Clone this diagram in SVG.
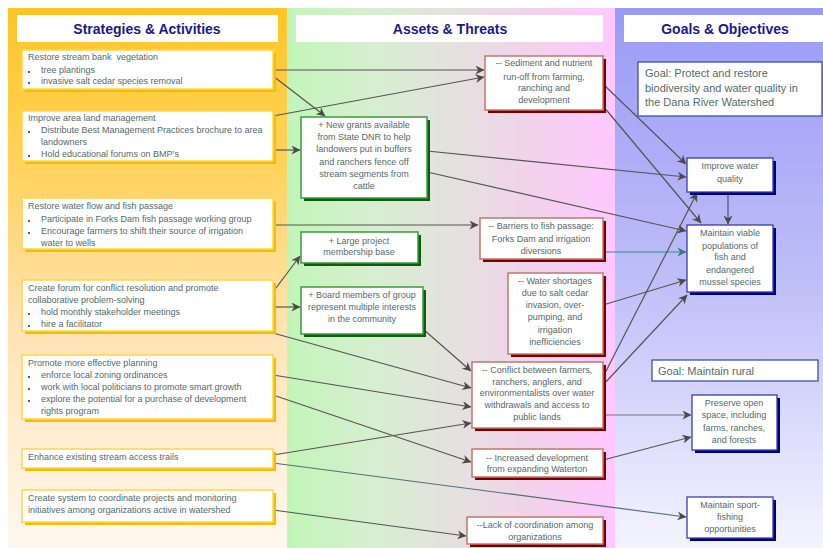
<svg xmlns="http://www.w3.org/2000/svg" width="823" height="548" viewBox="0 0 823 548">
  <defs>
    <linearGradient id="gLeft" x1="0" y1="0" x2="0" y2="1">
      <stop offset="0" stop-color="#FFC526"/>
      <stop offset="0.3" stop-color="#FFD35E"/>
      <stop offset="0.6" stop-color="#FFE4B4"/>
      <stop offset="1" stop-color="#FFF8F0"/>
    </linearGradient>
    <linearGradient id="gMid" x1="0" y1="0" x2="1" y2="0">
      <stop offset="0" stop-color="#C2F5B8"/>
      <stop offset="0.25" stop-color="#D6EFCF"/>
      <stop offset="0.5" stop-color="#E4E2DE"/>
      <stop offset="0.75" stop-color="#F2D2EC"/>
      <stop offset="1" stop-color="#FFC8FF"/>
    </linearGradient>
    <linearGradient id="gRight" x1="0" y1="0" x2="0" y2="1">
      <stop offset="0" stop-color="#9A9AF6"/>
      <stop offset="0.5" stop-color="#BEBEF8"/>
      <stop offset="1" stop-color="#F4F4FF"/>
    </linearGradient>
    <marker id="ah" viewBox="0 0 10 10" refX="9.5" refY="5" markerWidth="10" markerHeight="9" orient="auto" markerUnits="userSpaceOnUse">
      <path d="M0,0 L10,5 L0,10 L3,5 z" fill="#4a4a4a"/>
    </marker>
    <marker id="ahT" viewBox="0 0 10 10" refX="9.5" refY="5" markerWidth="10" markerHeight="9" orient="auto" markerUnits="userSpaceOnUse">
      <path d="M0,0 L10,5 L0,10 L3,5 z" fill="#3a7a7a"/>
    </marker>
  </defs>
  <style>
    .hdr { font-family: "Liberation Sans", Arial, sans-serif; font-weight: bold; font-size: 14px; fill: #1a1a8c; text-anchor: middle; }
    .t { font-family: "Liberation Sans", Arial, sans-serif; font-size: 9px; fill: #546a6a; }
    .c { text-anchor: middle; }
    .goal { font-family: "Liberation Sans", Arial, sans-serif; font-size: 11px; fill: #546a6a; }
    .hbox { fill: #ffffff; }
    .sY { fill: #F2BE00; }
    .bY { fill: #ffffff; stroke: #FFD54A; stroke-width: 1.5; }
    .sG { fill: #0B5E0B; }
    .bG { fill: #ffffff; stroke: #3C9A3C; stroke-width: 1.5; }
    .sR { fill: #7A0000; }
    .bR { fill: #ffffff; stroke: #C07A6A; stroke-width: 1.5; }
    .sB { fill: #00007A; }
    .bB { fill: #ffffff; stroke: #3B3BB0; stroke-width: 1.3; }
    .bGoal { fill: #ffffff; stroke: #4050A0; stroke-width: 1.3; }
    .bul { fill: #546a6a; }
    .ln { fill: none; stroke: #555555; stroke-width: 1.2; marker-end: url(#ah); }
    .lnT { fill: none; stroke: #3a8a8a; stroke-width: 1.2; marker-end: url(#ahT); }
    .lnS { fill: none; stroke: #557070; stroke-width: 1.2; marker-end: url(#ah); }
    .lnM { fill: none; stroke: #8a6a7a; stroke-width: 1.2; marker-end: url(#ah); }
  </style>

  <!-- column backgrounds -->
  <rect x="0" y="0" width="823" height="548" fill="#ffffff"/>
  <rect x="8" y="8" width="279" height="540" fill="url(#gLeft)"/>
  <rect x="287" y="8" width="328" height="540" fill="url(#gMid)"/>
  <rect x="615" y="8" width="208" height="540" fill="url(#gRight)"/>

  <!-- column headers -->
  <g id="hdr-strategies">
    <rect class="hbox" x="17" y="15" width="261" height="27"/>
    <text class="hdr" x="147" y="34">Strategies &amp; Activities</text>
  </g>
  <g id="hdr-assets">
    <rect class="hbox" x="296" y="15" width="307" height="27"/>
    <text class="hdr" x="450" y="34">Assets &amp; Threats</text>
  </g>
  <g id="hdr-goals">
    <rect class="hbox" x="624" y="15" width="199" height="27"/>
    <text class="hdr" x="725" y="34">Goals &amp; Objectives</text>
  </g>

  <!-- connectors -->
  <g id="connectors">
    <path class="ln" d="M273,70 L484,70"/>
    <path class="ln" d="M273,76 L325,116"/>
    <path class="ln" d="M273,116 L484,77"/>
    <path class="ln" d="M273,150 L300,150"/>
    <path class="ln" d="M603,84 L686,164"/>
    <path class="ln" d="M603,106 L701,223"/>
    <path class="ln" d="M427,151 L686,177"/>
    <path class="ln" d="M427,172 L686,231"/>
    <path class="ln" d="M728,192 L728,224"/>
    <path class="ln" d="M273,225 L478,225"/>
    <path class="lnT" d="M603,252 L686,252"/>
    <path class="ln" d="M273,292 L300,256"/>
    <path class="ln" d="M273,307 L300,307"/>
    <path class="ln" d="M273,333 L471,388"/>
    <path class="ln" d="M423,329 L471,371"/>
    <path class="ln" d="M273,375 L471,407"/>
    <path class="ln" d="M273,395 L471,462"/>
    <path class="ln" d="M273,455 L471,423"/>
    <path class="lnS" d="M273,463 L686,517"/>
    <path class="ln" d="M273,510 L466,536"/>
    <path class="ln" d="M603,305 L686,280"/>
    <path class="ln" d="M603,377 L697,193"/>
    <path class="ln" d="M603,385 L687,295"/>
    <path class="lnM" d="M603,415 L691,415"/>
    <path class="ln" d="M603,460 L691,437"/>
  </g>

  <!-- strategies & activities -->
  <g id="s-stream-bank">
    <rect class="sY" x="25" y="53" width="251" height="39"/>
    <rect class="bY" x="22" y="50" width="251" height="39"/>
    <text class="t" x="28" y="60" xml:space="preserve">Restore stream bank  vegetation</text>
    <rect class="bul" x="28" y="71" width="2" height="2"/>
    <text class="t" x="41" y="73">tree plantings</text>
    <rect class="bul" x="28" y="82" width="2" height="2"/>
    <text class="t" x="41" y="84">invasive salt cedar species removal</text>
  </g>
  <g id="s-land-management">
    <rect class="sY" x="25" y="114" width="251" height="50"/>
    <rect class="bY" x="22" y="111" width="251" height="50"/>
    <text class="t" x="28" y="121">Improve area land management</text>
    <rect class="bul" x="28" y="131" width="2" height="2"/>
    <text class="t" x="41" y="133">Distribute Best Management Practices brochure to area</text>
    <text class="t" x="41" y="145">landowners</text>
    <rect class="bul" x="28" y="155" width="2" height="2"/>
    <text class="t" x="41" y="157">Hold educational forums on BMP’s</text>
  </g>
  <g id="s-water-flow">
    <rect class="sY" x="25" y="201" width="251" height="51"/>
    <rect class="bY" x="22" y="198" width="251" height="51"/>
    <text class="t" x="28" y="209">Restore water flow and fish passage</text>
    <rect class="bul" x="28" y="220" width="2" height="2"/>
    <text class="t" x="41" y="222">Participate in Forks Dam fish passage working group</text>
    <rect class="bul" x="28" y="232" width="2" height="2"/>
    <text class="t" x="41" y="234">Encourage farmers to shift their source of irrigation</text>
    <text class="t" x="41" y="246">water to wells</text>
  </g>
  <g id="s-forum">
    <rect class="sY" x="25" y="283" width="251" height="51"/>
    <rect class="bY" x="22" y="280" width="251" height="51"/>
    <text class="t" x="28" y="291">Create forum for conflict resolution and promote</text>
    <text class="t" x="28" y="303">collaborative problem-solving</text>
    <rect class="bul" x="28" y="313" width="2" height="2"/>
    <text class="t" x="41" y="315">hold monthly stakeholder meetings</text>
    <rect class="bul" x="28" y="325" width="2" height="2"/>
    <text class="t" x="41" y="327">hire a facilitator</text>
  </g>
  <g id="s-planning">
    <rect class="sY" x="25" y="358" width="251" height="64"/>
    <rect class="bY" x="22" y="355" width="251" height="64"/>
    <text class="t" x="28" y="366">Promote more effective planning</text>
    <rect class="bul" x="28" y="376" width="2" height="2"/>
    <text class="t" x="41" y="378">enforce local zoning ordinances</text>
    <rect class="bul" x="28" y="388" width="2" height="2"/>
    <text class="t" x="41" y="390">work with local politicians to promote smart growth</text>
    <rect class="bul" x="28" y="400" width="2" height="2"/>
    <text class="t" x="41" y="402">explore the potential for a purchase of development</text>
    <text class="t" x="41" y="414">rights program</text>
  </g>
  <g id="s-trails">
    <rect class="sY" x="25" y="452" width="251" height="19"/>
    <rect class="bY" x="22" y="449" width="251" height="19"/>
    <text class="t" x="28" y="460">Enhance existing stream access trails</text>
  </g>
  <g id="s-coordination">
    <rect class="sY" x="25" y="493" width="251" height="32"/>
    <rect class="bY" x="22" y="490" width="251" height="32"/>
    <text class="t" x="28" y="501">Create system to coordinate projects and monitoring</text>
    <text class="t" x="28" y="513">initiatives among organizations active in watershed</text>
  </g>

  <!-- assets -->
  <g id="a-grants">
    <rect class="sG" x="304" y="120" width="126" height="81"/>
    <rect class="bG" x="301" y="117" width="126" height="81"/>
    <text class="t c" x="364" y="128">+ New grants available</text>
    <text class="t c" x="364" y="140">from State DNR to help</text>
    <text class="t c" x="364" y="152">landowers put in buffers</text>
    <text class="t c" x="364" y="165">and ranchers fence off</text>
    <text class="t c" x="364" y="177">stream segments from</text>
    <text class="t c" x="364" y="189">cattle</text>
  </g>
  <g id="a-membership">
    <rect class="sG" x="304" y="235" width="117" height="31"/>
    <rect class="bG" x="301" y="232" width="117" height="31"/>
    <text class="t c" x="359" y="244">+ Large project</text>
    <text class="t c" x="359" y="255">membership base</text>
  </g>
  <g id="a-board">
    <rect class="sG" x="304" y="290" width="122" height="47"/>
    <rect class="bG" x="301" y="287" width="122" height="47"/>
    <text class="t c" x="362" y="298">+ Board members of group</text>
    <text class="t c" x="362" y="310">represent multiple interests</text>
    <text class="t c" x="362" y="322">in the community</text>
  </g>

  <!-- threats -->
  <g id="t-sediment">
    <rect class="sR" x="488" y="59" width="118" height="54"/>
    <rect class="bR" x="485" y="56" width="118" height="54"/>
    <text class="t c" x="544" y="66">-- Sediment and nutrient</text>
    <text class="t c" x="544" y="80">run-off from farming,</text>
    <text class="t c" x="544" y="91">ranching and</text>
    <text class="t c" x="544" y="103">development</text>
  </g>
  <g id="t-barriers">
    <rect class="sR" x="483" y="221" width="123" height="41"/>
    <rect class="bR" x="480" y="218" width="123" height="41"/>
    <text class="t c" x="541" y="229">-- Barriers to fish passage:</text>
    <text class="t c" x="541" y="242">Forks Dam and irrigation</text>
    <text class="t c" x="541" y="254">diversions</text>
  </g>
  <g id="t-water-shortages">
    <rect class="sR" x="511" y="276" width="95" height="81"/>
    <rect class="bR" x="508" y="273" width="95" height="81"/>
    <text class="t c" x="555" y="284">-- Water shortages</text>
    <text class="t c" x="555" y="296">due to salt cedar</text>
    <text class="t c" x="555" y="308">invasion, over-</text>
    <text class="t c" x="555" y="320">pumping, and</text>
    <text class="t c" x="555" y="333">irrigation</text>
    <text class="t c" x="555" y="345">inefficiencies</text>
  </g>
  <g id="t-conflict">
    <rect class="sR" x="475" y="365" width="131" height="66"/>
    <rect class="bR" x="472" y="362" width="131" height="66"/>
    <text class="t c" x="537" y="373">-- Conflict between farmers,</text>
    <text class="t c" x="537" y="385">ranchers, anglers, and</text>
    <text class="t c" x="537" y="396">environmentalists over water</text>
    <text class="t c" x="537" y="408">withdrawals and access to</text>
    <text class="t c" x="537" y="420">public lands</text>
  </g>
  <g id="t-development">
    <rect class="sR" x="475" y="452" width="131" height="28"/>
    <rect class="bR" x="472" y="449" width="131" height="28"/>
    <text class="t c" x="537" y="461">-- Increased development</text>
    <text class="t c" x="537" y="472">from expanding Waterton</text>
  </g>
  <g id="t-coordination">
    <rect class="sR" x="470" y="520" width="136" height="27"/>
    <rect class="bR" x="467" y="517" width="136" height="27"/>
    <text class="t c" x="535" y="528">--Lack of coordination among</text>
    <text class="t c" x="535" y="540">organizations</text>
  </g>

  <!-- goals & objectives -->
  <g id="g-biodiversity">
    <rect class="bGoal" x="638" y="62" width="184" height="54"/>
    <text class="goal" x="645" y="77">Goal: Protect and restore</text>
    <text class="goal" x="645" y="92">biodiversity and water quality in</text>
    <text class="goal" x="645" y="106">the Dana River Watershed</text>
  </g>
  <g id="o-water-quality">
    <rect class="sB" x="690" y="161" width="86" height="34"/>
    <rect class="bB" x="687" y="158" width="86" height="34"/>
    <text class="t c" x="730" y="169">Improve water</text>
    <text class="t c" x="730" y="182">quality</text>
  </g>
  <g id="o-populations">
    <rect class="sB" x="690" y="228" width="86" height="67"/>
    <rect class="bB" x="687" y="225" width="86" height="67"/>
    <text class="t c" x="730" y="236">Maintain viable</text>
    <text class="t c" x="730" y="249">populations of</text>
    <text class="t c" x="730" y="260">fish and</text>
    <text class="t c" x="730" y="273">endangered</text>
    <text class="t c" x="730" y="285">mussel species</text>
  </g>
  <g id="g-rural">
    <rect class="bGoal" x="652" y="360" width="166" height="21"/>
    <text class="goal" x="658" y="375">Goal: Maintain rural</text>
  </g>
  <g id="o-open-space">
    <rect class="sB" x="695" y="398" width="85" height="55"/>
    <rect class="bB" x="692" y="395" width="85" height="55"/>
    <text class="t c" x="734" y="406">Preserve open</text>
    <text class="t c" x="734" y="418">space, including</text>
    <text class="t c" x="734" y="431">farms, ranches,</text>
    <text class="t c" x="734" y="443">and forests</text>
  </g>
  <g id="o-sport-fishing">
    <rect class="sB" x="690" y="500" width="86" height="41"/>
    <rect class="bB" x="687" y="497" width="86" height="41"/>
    <text class="t c" x="730" y="508">Maintain sport-</text>
    <text class="t c" x="730" y="520">fishing</text>
    <text class="t c" x="730" y="532">opportunities</text>
  </g>
</svg>
